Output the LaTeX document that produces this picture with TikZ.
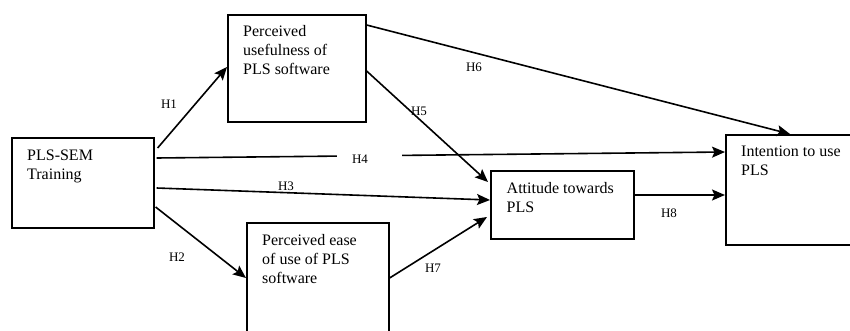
\documentclass[tikz,border=0pt]{standalone}
\usepackage{fontspec}
\setmainfont{Liberation Serif}
\usetikzlibrary{arrows.meta,calc}
\begin{document}
\begin{tikzpicture}[x=1pt,y=-1pt,
  box/.style={draw=black, line width=1.6pt, rectangle, inner sep=0pt, anchor=north west},
  txt/.style={anchor=north west, inner sep=0pt, align=left, font=\fontsize{16}{19}\selectfont},
  arr/.style={line width=1.6pt, -{Stealth[length=13pt,width=11pt,inset=2.5pt]}},
  hl/.style={inner sep=0pt, font=\fontsize{13}{15}\selectfont}]
\useasboundingbox (0,0) rectangle (850,331);
\clip (0,0) rectangle (850,331);
% boxes
\node[box, minimum width=142pt, minimum height=90pt] (tr) at (11,137) {};
\node[box, minimum width=138pt, minimum height=107pt] (pu) at (227,14) {};
\node[box, minimum width=142pt, minimum height=130pt] (pe) at (246,222) {};
\node[box, minimum width=143pt, minimum height=68pt] (at) at (490,170) {};
\node[box, minimum width=140pt, minimum height=110pt] (in) at (725,134) {};
% texts
\node[txt] (trt) at ($(tr.north west)+(16,9.7)$) {\strut PLS-SEM\\Training};
\node[txt] (put) at ($(pu.north west)+(16,8.7)$) {\strut Perceived\\usefulness of\\PLS software};
\node[txt] (pet) at ($(pe.north west)+(16,9.7)$) {\strut Perceived ease\\of use of PLS\\software};
\node[txt] (att) at ($(at.north west)+(16.5,10)$) {\strut Attitude towards\\PLS};
\node[txt] (int) at ($(in.north west)+(16,9.4)$) {\strut Intention to use\\PLS};
% arrows
\draw[arr] ($(tr.north east)+(3,11)$) -- ($(pu.north west)+(0,53)$);
\draw[arr] ($(tr.north east)+(1,70)$) -- ($(pe.north west)+(0,56)$);
\draw[arr] ($(tr.north east)+(2,51)$) -- ($(at.north west)+(0,30)$);
\draw[arr] ($(tr.north east)+(2,21)$) -- ($(in.north west)+(0,18)$);
\draw[arr] ($(pu.north east)+(0,57)$) -- ($(at.north west)+(-2,12)$);
\draw[arr] ($(pu.north east)+(0,11)$) -- ($(in.north west)+(65,0)$);
\draw[arr] ($(pe.north east)+(0,56)$) -- ($(at.north west)+(-3,47)$);
\draw[arr] ($(at.north east)+(-1,25)$) -- ($(in.north west)+(0,61)$);
% labels
\node[fill=white, inner sep=0pt, minimum width=65pt, minimum height=7pt] (gap) at (369.5,157.5) {};
\node[hl] (h1) at (169,104) {H1};
\node[hl] (h2) at (177,257) {H2};
\node[hl] (h3) at (286,186) {H3};
\node[hl] (h4) at (360,159) {H4};
\node[hl] (h5) at (419,111) {H5};
\node[hl] (h6) at (474,67) {H6};
\node[hl] (h7) at (433,268) {H7};
\node[hl] (h8) at (669,213) {H8};
\end{tikzpicture}
\end{document}
